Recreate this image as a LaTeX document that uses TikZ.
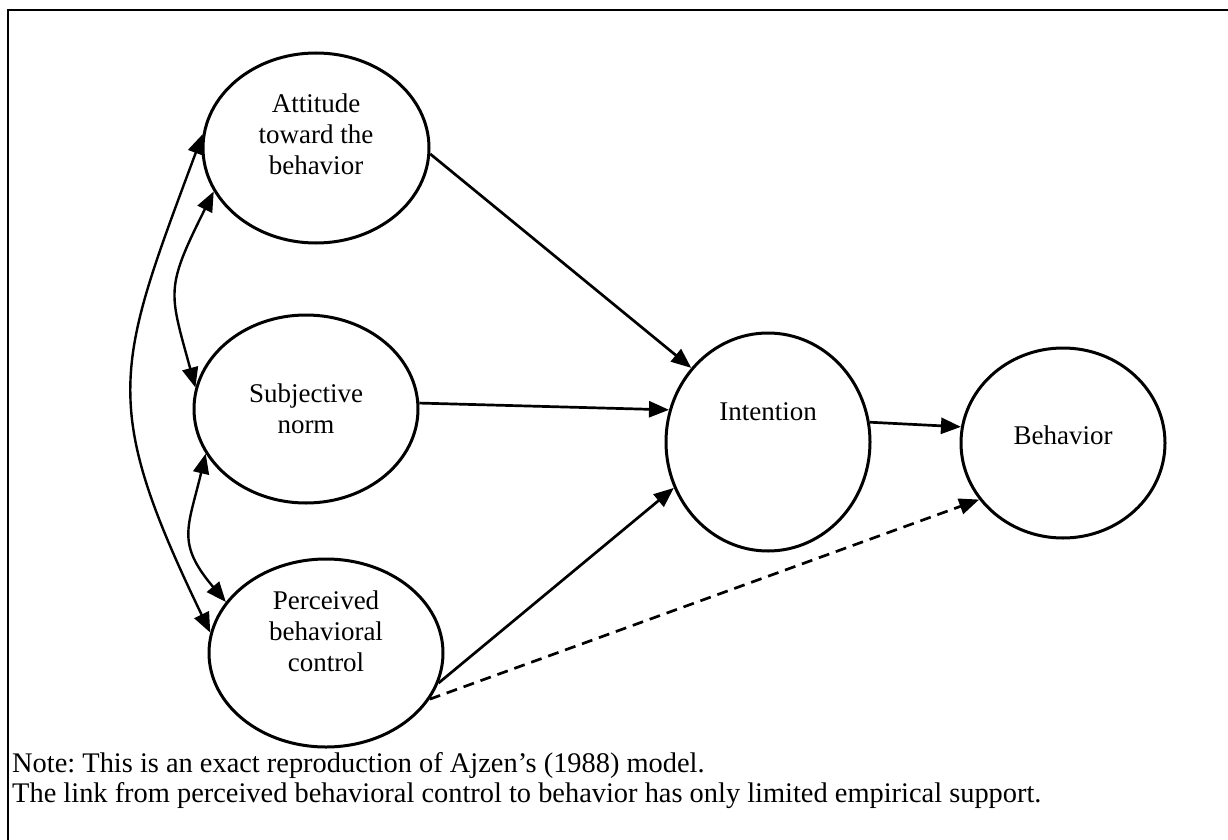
\documentclass[tikz,border=0pt]{standalone}
\usepackage{fontspec}
\setmainfont{Liberation Serif}
\frenchspacing
\usetikzlibrary{arrows.meta,shapes.geometric}
\begin{document}
\begin{tikzpicture}[x=1pt,y=-1pt,
  construct/.style={draw,ellipse,line width=3pt,inner sep=0pt},
  lbl/.style={align=center,font=\fontsize{27}{31}\selectfont,inner sep=0pt},
  notetext/.style={anchor=west,font=\fontsize{28.4}{30}\selectfont,inner sep=0pt},
  link/.style={line width=2.7pt,-{Triangle[length=20pt,width=16pt]}},
  twoway/.style={line width=2.4pt,{Triangle[length=20pt,width=16pt]}-{Triangle[length=20pt,width=16pt]}},
]
\useasboundingbox (0,0) rectangle (1228,840);

% frame (top and left edges)
\draw[line width=2.2pt] (8,840) |- (1228,10);

% constructs
\node[construct,minimum width=226pt,minimum height=190pt] (att) at (316,148) {};
\node[construct,minimum width=224pt,minimum height=188pt] (sub) at (306,409) {};
\node[construct,minimum width=234pt,minimum height=188pt] (pbc) at (326,653) {};
\node[construct,minimum width=204pt,minimum height=218pt] (int) at (768,442) {};
\node[construct,minimum width=204pt,minimum height=190pt] (beh) at (1063,443) {};

% labels
\node[lbl] (attT) at ([yshift=14pt]att.center) {Attitude\\toward the\\behavior};
\node[lbl] (subT) at (sub.center) {Subjective\\norm};
\node[lbl] (pbcT) at ([yshift=22pt]pbc.center) {Perceived\\behavioral\\control};
\node[lbl] (intT) at ([yshift=30pt]int.center) {Intention};
\node[lbl] (behT) at ([yshift=8pt]beh.center) {Behavior};

% direct paths
\draw[link] (att.-3) -- (int.136);
\draw[link] (sub.3) -- (int.162);
\draw[link] (pbc.-15) -- (int.206);
\draw[link,dash pattern=on 11pt off 7pt] (pbc.-24) -- (beh.214);
\draw[link] (int.11) -- (beh.171);

% correlations among the predictors
\draw[twoway] (pbc.170) .. controls (99,402) and (116,367) .. (att.173);
\draw[twoway] (att.203) .. controls (165,289) and (169,291) .. (sub.169);
\draw[twoway] (sub.204) .. controls (188,528) and (176,543) .. (pbc.153);

% note
\node[notetext] (note1) at (12,766) {Note: This is an exact reproduction of Ajzen's (1988) model.};
\node[notetext] (note2) at (12,796) {The link from perceived behavioral control to behavior has only limited empirical support.};
\end{tikzpicture}
\end{document}
